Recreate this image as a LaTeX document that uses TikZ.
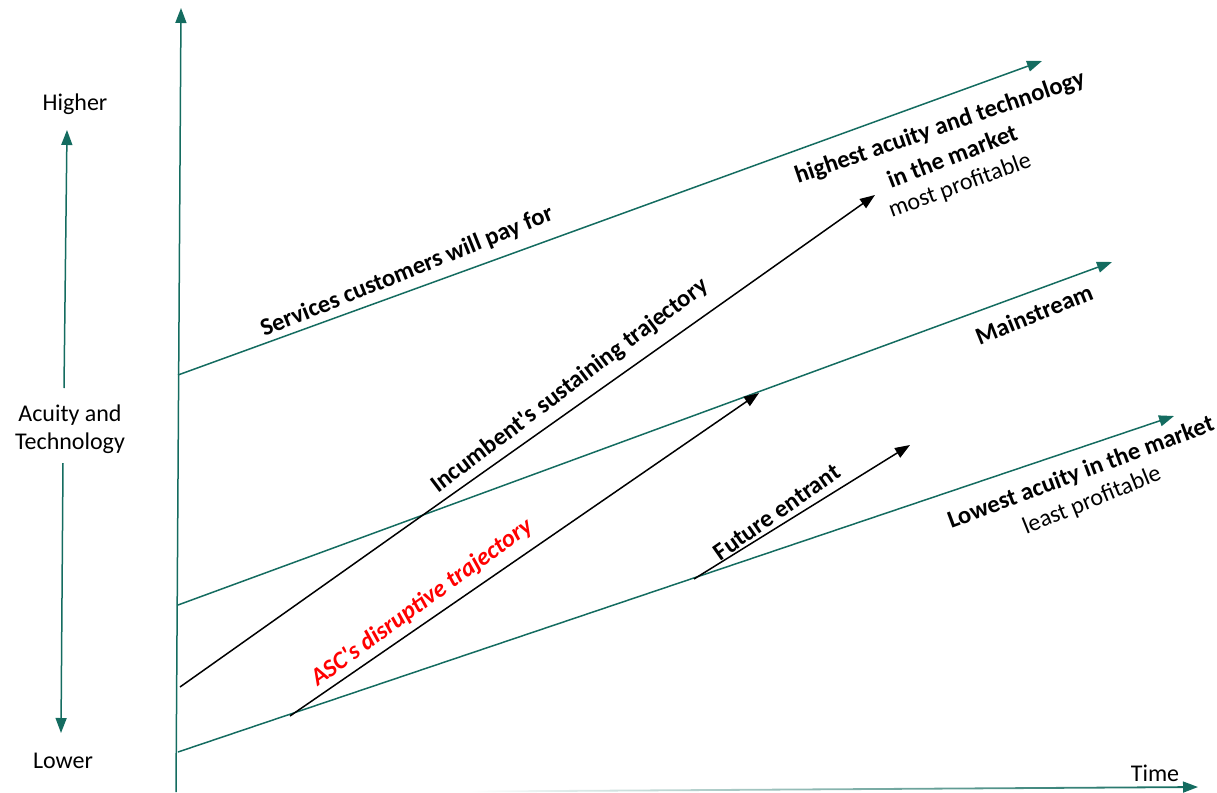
\documentclass[tikz,border=0pt]{standalone}
\usepackage{fontspec}
\setmainfont{Carlito}
\usetikzlibrary{arrows.meta}
\definecolor{tealA}{RGB}{20,108,96}
\definecolor{redA}{RGB}{255,0,0}
\begin{document}
\begin{tikzpicture}[x=1pt,y=-1pt,
  gline/.style={draw=tealA, line width=1.5pt, -{Triangle[length=15pt,width=11pt]}},
  bline/.style={draw=black, line width=1.5pt, -{Triangle[length=15pt,width=11pt]}},
  lbl/.style={font=\fontsize{24.6}{28}\selectfont\bfseries, inner sep=0pt},
  txt/.style={font=\fontsize{24}{28}\selectfont, inner sep=0pt}]
\useasboundingbox (0,0) rectangle (1217,792);
% axes
\coordinate (v0) at (176,792);
\coordinate (v1) at (181,8);
\draw[gline] (v0) -- (v1);
\shade[left color=white, right color=tealA] (470,790.6) -- (1184,786.2) -- (1184,788.0) -- (470,792.4) -- cycle;
\coordinate (t0) at (1182,787.1);
\coordinate (t1) at (1198,787.0);
\draw[gline] (t0) -- (t1);
\node[txt] (time) at (1155,773) {Time};
% left scale
\node[txt] (higher) at (75,104) {Higher};
\node[txt] (lower) at (63,761) {Lower};
\node[txt, align=center] (acuity) at (70,429) {Acuity and\\Technology};
\coordinate (la0) at (64,388);
\coordinate (la1) at (67,130);
\coordinate (lb0) at (63,463);
\coordinate (lb1) at (61,733);
\draw[gline] (la0) -- (la1);
\draw[gline] (lb0) -- (lb1);
% green market lines
\coordinate (g1a) at (178,375);
\coordinate (g1b) at (1042,61);
\coordinate (g2a) at (178,605);
\coordinate (g2b) at (1112,262);
\coordinate (g3a) at (178,752);
\coordinate (g3b) at (1174,416);
\draw[gline] (g1a) -- (g1b);
\draw[gline] (g2a) -- (g2b);
\draw[gline] (g3a) -- (g3b);
% black trajectories
\coordinate (ia) at (180,687);
\coordinate (ib) at (875,195);
\coordinate (aa) at (290,716);
\coordinate (ab) at (759,393);
\coordinate (fa) at (694,579);
\coordinate (fb) at (910,445);
\draw[bline] (ia) -- (ib);
\draw[bline] (aa) -- (ab);
\draw[bline] (fa) -- (fb);
% labels
\node[lbl, rotate=22] (serv) at (407,272) {Services customers will pay for};
\node[lbl, rotate=37] (inc) at (570,386) {Incumbent\textquotesingle s sustaining trajectory};
\node[lbl, rotate=36, text=redA, font=\fontsize{24.6}{28}\selectfont\bfseries\itshape] (asc) at (422,603) {ASC\textquotesingle s disruptive trajectory};
\node[lbl, rotate=35] (fut) at (777,512) {Future entrant};
\node[lbl, rotate=22] (main) at (1034,314) {Mainstream};
\node[lbl, rotate=19] (hi1) at (940,128) {highest acuity and technology};
\node[lbl, rotate=21] (hi2) at (952,156) {in the market};
\node[txt, rotate=20] (hi3) at (960,186) {most profitable};
\node[lbl, rotate=20.5] (lo1) at (1081,473) {Lowest acuity in the market};
\node[txt, rotate=22] (lo2) at (1092,501) {least profitable};
\end{tikzpicture}
\end{document}
